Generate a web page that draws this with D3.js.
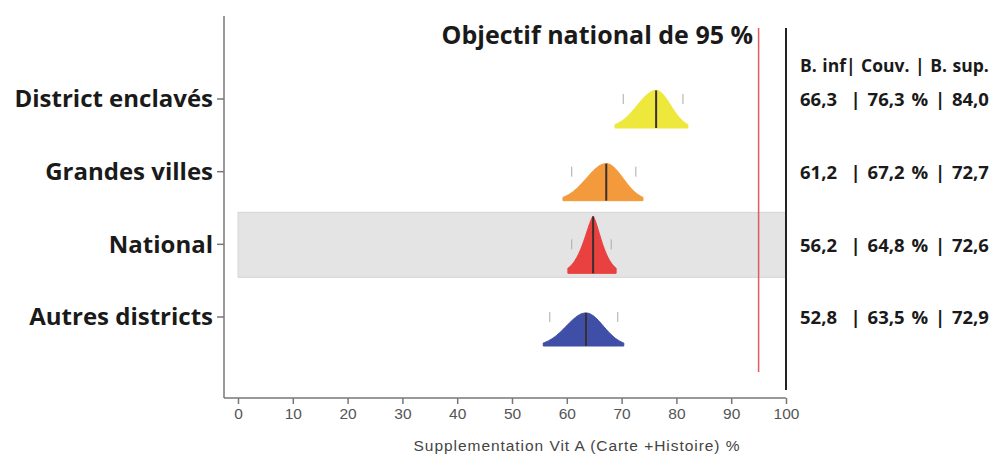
<!DOCTYPE html>
<meta charset="utf-8">
<style>
    body { margin: 0; background: #fff; }
    text { font-family: "Open Sans", "DejaVu Sans", sans-serif; }
    .cat { font-weight: bold; font-size: 24px; fill: #1a1a1a; }
    .vals { font-weight: bold; font-size: 18.5px; fill: #1a1a1a; word-spacing: 2px; }
    .xAxis text { font-family: "Liberation Sans", Arial, sans-serif; font-size: 15.5px; fill: #555; }
    .xAxis path, .xAxis line { stroke: #777; stroke-width: 1.5px; }
</style>
<body>
    <svg width="1000" height="454"></svg>
</body>
<script src="https://d3js.org/d3.v7.min.js"></script>
<script>
    // data
    var categories = ["District enclavés", "Grandes villes", "National", "Autres districts"];
    var shapeLow   = [68.8, 59.3, 60.2, 55.7];   // left end of each distribution
    var coverage   = [76.3, 67.2, 64.8, 63.5];   // median / coverage estimate
    var shapeHigh  = [82.1, 73.9, 69.0, 70.4];   // right end of each distribution
    var peak       = [0.66, 0.65, 1.0, 0.58];    // relative peak height
    var tickLow    = [70.3, 60.9, 60.9, 56.9];   // small grey marks
    var tickHigh   = [81.2, 72.6, 68.1, 69.3];
    var sharpness  = [2, 2, 1.45, 2];
    var colors     = ["#efe83c", "#f39a3c", "#e8413f", "#3f4ea6"];
    var rowText    = ["66,3  | 76,3 % | 84,0", "61,2  | 67,2 % | 72,7", "56,2  | 64,8 % | 72,6", "52,8  | 63,5 % | 72,9"];
    var headerText = "B. inf| Couv. | B. sup.";
    var xTicks     = [0, 10, 20, 30, 40, 50, 60, 70, 80, 90, 100];
    var target     = 95;
    var highlight  = "National";

    var svg = d3.select("svg");

    var x = d3.scaleLinear().domain([0, 100]).range([238, 786]);
    var y = d3.scalePoint().domain(categories).range([99, 317]);
    var hScale = d3.scaleLinear().domain([0, 1]).range([0, 57]);
    var baseOffset = 29;

    // highlighted band behind National
    svg.append("rect")
        .attr("x", x(0))
        .attr("y", y(highlight) - 32)
        .attr("width", x(100) - x(0))
        .attr("height", 65)
        .attr("fill", "#e4e4e4")
        .attr("stroke", "#d6d6d6");

    // left axis
    svg.append("line")
        .attr("x1", 224).attr("x2", 224)
        .attr("y1", 16).attr("y2", 398)
        .attr("stroke", "#777").attr("stroke-width", 1.5);

    var catG = svg.append("g").selectAll("g")
        .data(categories)
        .enter().append("g")
        .attr("transform", function (d) { return "translate(224," + y(d) + ")"; });
    catG.append("line")
        .attr("x1", -7).attr("x2", 0)
        .attr("stroke", "#777").attr("stroke-width", 1.5);
    catG.append("text")
        .attr("class", "cat")
        .attr("x", -11)
        .attr("dy", "0.35em")
        .style("text-anchor", "end")
        .text(function (d) { return d; });

    // bottom axis
    var xAxis = d3.axisBottom(x)
        .tickValues(xTicks)
        .tickSize(6)
        .tickPadding(4)
        .tickSizeOuter(0);
    var xg = svg.append("g")
        .attr("class", "xAxis")
        .attr("transform", "translate(0,398)")
        .call(xAxis);
    xg.select(".domain").attr("d", "M224,0H" + x(100));

    svg.append("text")
        .attr("x", 577).attr("y", 451)
        .style("text-anchor", "middle")
        .style("font-family", "Liberation Sans, Arial, sans-serif")
        .style("font-size", "15.5px")
        .style("letter-spacing", "0.95px")
        .style("fill", "#444")
        .text("Supplementation Vit A (Carte +Histoire) %");

    // distribution shapes
    categories.forEach(function (c, i) {
        var base = y(c) + baseOffset;
        var m = coverage[i], lo = shapeLow[i], hi = shapeHigh[i], p = sharpness[i];
        var k = Math.pow(2.4, 1 / p);
        var sL = (m - lo) / k, sR = (hi - m) / k;
        var pts = [];
        var n = 60;
        for (var j = 0; j <= n; j++) {
            var v = lo + (hi - lo) * j / n;
            var s = v < m ? sL : sR;
            var dens = peak[i] * Math.exp(-Math.pow(Math.abs(v - m) / s, p));
            pts.push([x(v), base - hScale(dens)]);
        }
        var path = d3.path();
        path.moveTo(x(lo), base);
        pts.forEach(function (q) { path.lineTo(q[0], q[1]); });
        path.lineTo(x(hi), base);
        path.closePath();
        svg.append("path")
            .attr("d", path.toString())
            .attr("fill", colors[i])
            .attr("stroke", colors[i])
            .attr("stroke-width", 1)
            .attr("stroke-linejoin", "round");

        svg.append("line")
            .attr("x1", x(m)).attr("x2", x(m))
            .attr("y1", base - hScale(peak[i])).attr("y2", base)
            .attr("stroke", "#3a2f2f").attr("stroke-width", 2);

        [tickLow[i], tickHigh[i]].forEach(function (t) {
            svg.append("line")
                .attr("x1", x(t)).attr("x2", x(t))
                .attr("y1", y(c) - 5).attr("y2", y(c) + 5)
                .attr("stroke", "#aaa").attr("stroke-width", 1);
        });

        svg.append("text")
            .attr("class", "vals")
            .attr("x", 800)
            .attr("y", y(c) + 1)
            .attr("dy", "0.35em")
            .style("white-space", "pre")
            .text(rowText[i]);
    });

    // target line and 100% line
    svg.append("line")
        .attr("x1", x(target)).attr("x2", x(target))
        .attr("y1", 28).attr("y2", 372)
        .attr("stroke", "#e05a62").attr("stroke-width", 1.5);
    svg.append("line")
        .attr("x1", x(100)).attr("x2", x(100))
        .attr("y1", 28).attr("y2", 390)
        .attr("stroke", "#222").attr("stroke-width", 2);

    svg.append("text")
        .attr("x", 753).attr("y", 44)
        .style("text-anchor", "end")
        .style("font-weight", "bold")
        .style("font-size", "25px")
        .style("fill", "#1a1a1a")
        .text("Objectif national de " + target + " %");

    svg.append("text")
        .attr("class", "vals")
        .attr("x", 800).attr("y", 66)
        .attr("dy", "0.35em")
        .style("font-size", "17.5px")
        .style("word-spacing", "1px")
        .text(headerText);
</script>
